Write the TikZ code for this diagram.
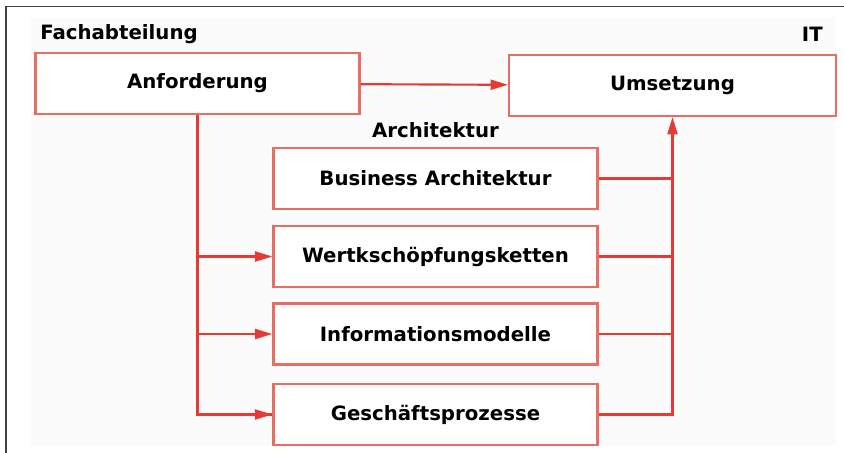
\documentclass[tikz,border=0pt]{standalone}
\usepackage{fontspec}
\setmainfont{DejaVu Sans}
\usetikzlibrary{arrows.meta}
\definecolor{linered}{RGB}{228,60,52}
\definecolor{boxred}{RGB}{232,110,100}
\tikzset{
  box/.style={draw=boxred, line width=1.8pt, fill=white, minimum width=243pt, minimum height=45.5pt, inner sep=0pt, font=\bfseries\fontsize{14.8}{16}\selectfont},
  title/.style={font=\bfseries\fontsize{14.8}{16}\selectfont, inner sep=0pt},
  link/.style={draw=linered, line width=1.6pt},
  arr/.style={link, -{Triangle[length=13pt,width=7.5pt]}}
}
\begin{document}
\begin{tikzpicture}[x=0.75pt,y=-0.75pt]
\useasboundingbox (0,0) rectangle (844,453);
\fill[black!1.5] (31,17) rectangle (836,446);
\draw[black!75, line width=1.2pt] (844,6.5) -- (6,6.5) -- (6,453);
\node[title, anchor=west] (fach) at (40,34) {Fachabteilung} ;
\node[title, anchor=east] (it) at (823,34) {IT} ;
\node[box] (anf) at (197.5,83.5) {Anforderung} ;
\node[box, minimum width=245pt] (ums) at (672.5,85.5) {Umsetzung} ;
\node[title] (arch) at (435.5,130) {Architektur} ;
\node[box] (bus) at (435.5,178.5) {Business Architektur} ;
\node[box] (wert) at (435.5,256.5) {Wertkschöpfungsketten} ;
\node[box] (info) at (435.5,334) {Informationsmodelle} ;
\node[box] (gesch) at (435.5,414.5) {Geschäftsprozesse} ;
\draw[arr] (anf) to (ums) ;
\draw[link] (anf.south) |- (gesch.west) ;
\draw[arr] (anf.south |- wert.west) to (wert.west) ;
\draw[arr] (anf.south |- info.west) to (info.west) ;
\draw[arr] (anf.south |- gesch.west) to (gesch.west) ;
\draw[link] (bus.east) -| (ums.south |- bus.east) ;
\draw[link] (wert.east) -| (ums.south |- wert.east) ;
\draw[link] (info.east) -| (ums.south |- info.east) ;
\draw[arr] (gesch.east) -| (ums.south) ;
\end{tikzpicture}
\end{document}
